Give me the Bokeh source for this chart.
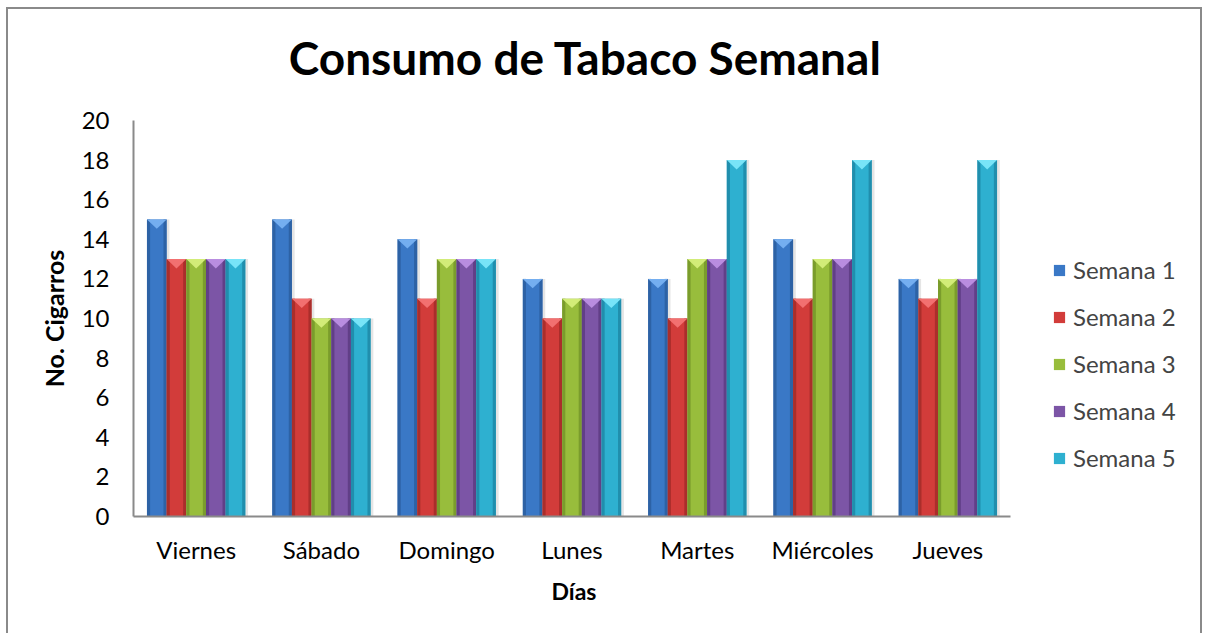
from bokeh.plotting import figure
from bokeh.models import ColumnDataSource, FixedTicker, Legend, LegendItem, Title, Label
from bokeh.embed import file_html
from bokeh.resources import INLINE

dias = ["Viernes", "Sábado", "Domingo", "Lunes", "Martes", "Miércoles", "Jueves"]
semanas = ["Semana 1", "Semana 2", "Semana 3", "Semana 4", "Semana 5"]
semana1 = [15, 15, 14, 12, 12, 14, 12]
semana2 = [13, 11, 11, 10, 10, 11, 11]
semana3 = [13, 10, 13, 11, 13, 13, 12]
semana4 = [13, 10, 13, 11, 13, 13, 12]
semana5 = [13, 10, 13, 11, 18, 18, 18]
valores = [semana1, semana2, semana3, semana4, semana5]
y_ticks = [0, 2, 4, 6, 8, 10, 12, 14, 16, 18, 20]
titulo = "Consumo de Tabaco Semanal"

base = ["#3a78c6", "#d23c3a", "#98bd3c", "#7c55a6", "#2eb0d0"]
dark = ["#2a5c9c", "#a02a28", "#739328", "#5a3a80", "#1d86a4"]
light = ["#74aef0", "#f27070", "#d2ec78", "#b98de0", "#78e4f8"]

FONT = "Lato"
BORDER = "2px solid #8a8a8a"
n = len(dias)
# frame spans past the category area so the legend can sit inside it
x_end = n * 1071 / 877
p = figure(width=1196, height=626, x_range=(0, x_end), y_range=(0, 20),
           output_backend="svg", toolbar_location=None,
           min_border_left=125, min_border_right=0, min_border_top=111, min_border_bottom=119)
p.styles = {"border-left": BORDER, "border-top": BORDER, "border-right": BORDER,
            "margin-left": "6px", "margin-top": "7px"}
p.background_fill_color = "white"
p.border_fill_color = "white"
p.outline_line_color = None
p.xgrid.visible = False
p.ygrid.visible = False

title_label = Label(text=titulo, x=452, y=63, x_units="screen", y_units="screen",
                    text_align="center", text_baseline="alphabetic",
                    text_font=FONT, text_font_size="46px", text_font_style="bold",
                    text_color="black")
p.add_layout(title_label, "above")

bw = 0.157
tri = 0.47
items = []
for j, (name, vals) in enumerate(zip(semanas, valores)):
    xs = [i + 0.5 + (j - 2) * bw for i in range(n)]
    src = ColumnDataSource(dict(x=xs, top=vals,
                                xsh=[x + 0.022 for x in xs]))
    p.vbar(x="xsh", top="top", width=bw, bottom=0, source=src,
           fill_color="#000000", fill_alpha=0.10, line_color=None)
    r = p.vbar(x="x", top="top", width=bw, bottom=0, source=src,
               fill_color=base[j], line_color=None)
    edge = bw * 0.16
    for sgn in (-1, 1):
        src_e = ColumnDataSource(dict(x=[x + sgn * (bw / 2 - edge / 2) for x in xs], top=vals))
        p.vbar(x="x", top="top", width=edge, bottom=0, source=src_e,
               fill_color=dark[j], fill_alpha=0.8, line_color=None)
    txs = [[x - bw / 2, x + bw / 2, x] for x in xs]
    tys = [[v, v, v - tri] for v in vals]
    p.patches(xs=txs, ys=tys, fill_color=light[j], line_color=None)
    items.append(LegendItem(label=name, renderers=[r]))

yax = p.yaxis[0]
yax.ticker = FixedTicker(ticks=y_ticks)
yax.axis_label = "No. Cigarros"
yax.axis_label_text_font = FONT
yax.axis_label_text_font_style = "bold"
yax.axis_label_text_font_size = "25px"
yax.axis_label_text_color = "black"
yax.axis_label_standoff = 10
yax.major_label_text_font = FONT
yax.major_label_text_font_size = "24px"
yax.major_label_text_color = "black"
yax.major_label_standoff = 24
yax.major_tick_out = 0
yax.major_tick_in = 0
yax.minor_tick_out = 0
yax.minor_tick_in = 0
yax.axis_line_color = "#8a8a8a"
yax.axis_line_width = 2

xax = p.xaxis[0]
xax.bounds = (0, n)
xax.ticker = FixedTicker(ticks=[i + 0.5 for i in range(n)])
xax.major_label_overrides = {i + 0.5: d for i, d in enumerate(dias)}
xax.major_label_text_font = FONT
xax.major_label_text_font_size = "24px"
xax.major_label_text_color = "black"
xax.major_label_standoff = 18
xax.major_tick_out = 0
xax.major_tick_in = 0
xax.minor_tick_out = 0
xax.minor_tick_in = 0
xax.axis_line_color = "#8a8a8a"
xax.axis_line_width = 2

xtitle = Title(text="Días", text_font=FONT, text_font_size="23px", text_font_style="bold",
               text_color="black", align="left", offset=418, standoff=17)
p.add_layout(xtitle, "below")

legend = Legend(items=items, location=(919, 44))
legend.label_text_font = FONT
legend.label_text_font_size = "24px"
legend.glyph_width = 14
legend.glyph_height = 14
legend.label_height = 24
legend.label_standoff = 7
legend.spacing = 18
legend.padding = 0
legend.margin = 0
legend.border_line_color = None
legend.background_fill_alpha = 0
p.add_layout(legend)

open("out.html", "w").write(file_html(p, INLINE))
